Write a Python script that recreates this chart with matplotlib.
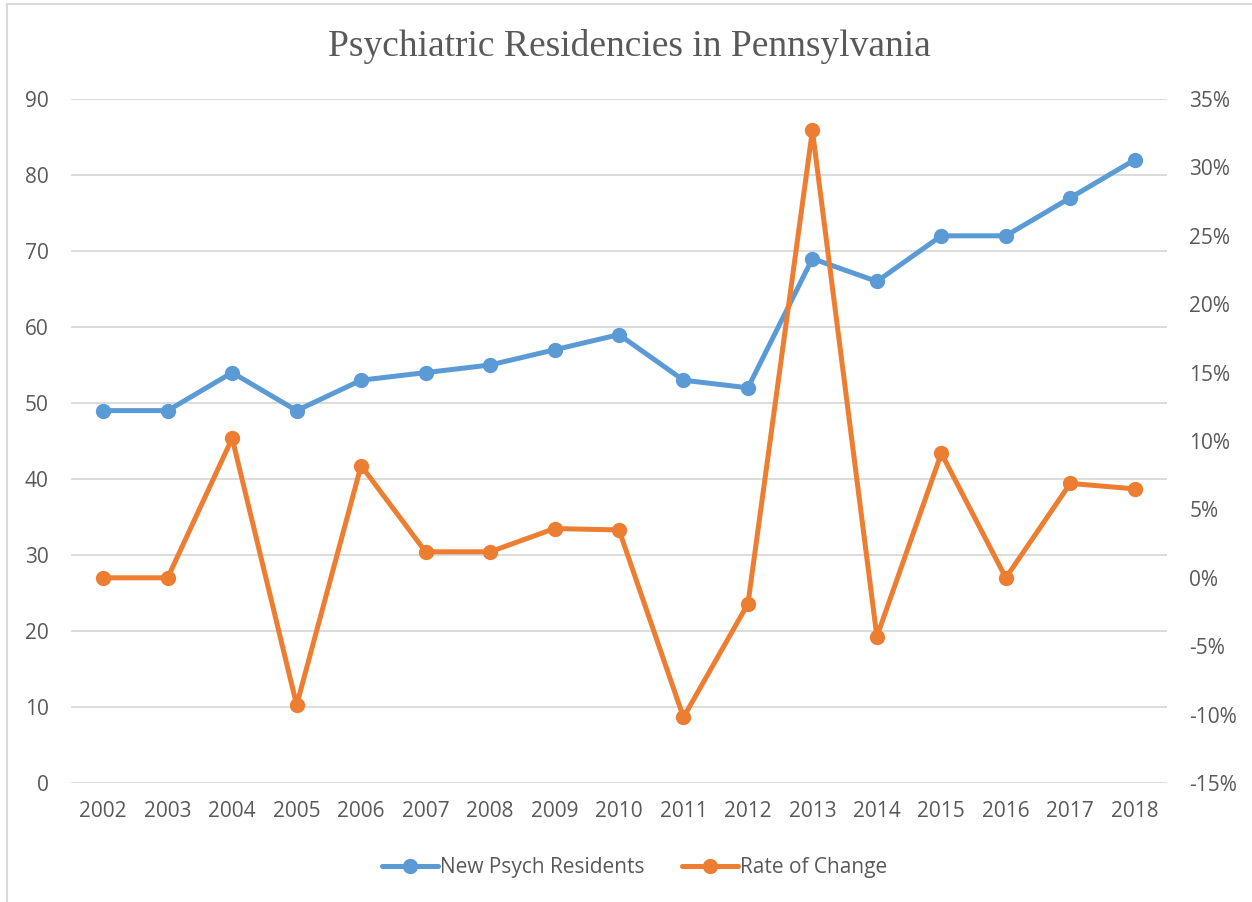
import matplotlib

matplotlib.use("Agg")

import matplotlib.pyplot as plt
from matplotlib.lines import Line2D
from matplotlib.ticker import FuncFormatter

years = [str(y) for y in range(2002, 2019)]
new_residents = [49, 49, 54, 49, 53, 54, 55, 57, 59, 53, 52, 69, 66, 72, 72, 77, 82]
rate_of_change = [0.0, 0.0, 0.102, -0.093, 0.082, 0.019, 0.019, 0.036, 0.035,
                  -0.102, -0.019, 0.327, -0.043, 0.091, 0.0, 0.069, 0.065]

BLUE = "#5B9BD5"
ORANGE = "#ED7D31"
TEXT = "#595959"
GRID = "#D9D9D9"

plt.rcParams["font.family"] = ["Open Sans", "DejaVu Sans"]

fig = plt.figure(figsize=(12.52, 9.02), dpi=100)
ax = fig.add_axes([71 / 1252, 1 - 783 / 902, (1167 - 71) / 1252, (783 - 99) / 902])
ax2 = ax.twinx()

x = list(range(len(years)))
line_kw = dict(linewidth=3.6, marker="o", markersize=10, solid_capstyle="round")
ax.plot(x, new_residents, color=BLUE, zorder=3, **line_kw)
ax2.plot(x, rate_of_change, color=ORANGE, zorder=3, **line_kw)

ax.set_xlim(-0.5, len(years) - 0.5)
ax.set_ylim(0, 90)
ax.set_yticks(range(0, 91, 10))
ax2.set_ylim(-0.15, 0.35)
ax2.set_yticks([i / 100 for i in range(-15, 36, 5)])
ax2.yaxis.set_major_formatter(FuncFormatter(lambda v, _: f"{round(v * 100)}%"))

ax.set_xticks(x)
ax.set_xticklabels(years)
ax.grid(axis="y", color=GRID, linewidth=1.3)
ax.set_axisbelow(True)

for a in (ax, ax2):
    for s in a.spines.values():
        s.set_visible(False)
    a.tick_params(length=0, labelsize=15, labelcolor=TEXT)
ax.tick_params(axis="y", pad=16)
ax.tick_params(axis="x", pad=13)
ax2.tick_params(axis="y", pad=16)

fig.text(0.503, 1 - 47 / 902, "Psychiatric Residencies in Pennsylvania",
         ha="center", va="center", fontsize=27, color=TEXT, family="Liberation Serif")

handles = [
    Line2D([], [], color=BLUE, linewidth=3.6, marker="o", markersize=10, solid_capstyle="round"),
    Line2D([], [], color=ORANGE, linewidth=3.6, marker="o", markersize=10, solid_capstyle="round"),
]
fig.legend(handles, ["New Psych Residents", "Rate of Change"], loc="center",
           bbox_to_anchor=(0.507, 1 - 868 / 902), ncol=2, frameon=False,
           fontsize=15, labelcolor=TEXT, handlelength=2.7, handletextpad=0.1,
           columnspacing=1.8)

# light border around the chart area
fig.add_artist(Line2D([7 / 1252, 7 / 1252], [0, 1 - 4 / 902], color=GRID, linewidth=1.5))
fig.add_artist(Line2D([7 / 1252, 1], [1 - 4 / 902, 1 - 4 / 902], color=GRID, linewidth=1.5))

fig.savefig("out.png", dpi=100)
